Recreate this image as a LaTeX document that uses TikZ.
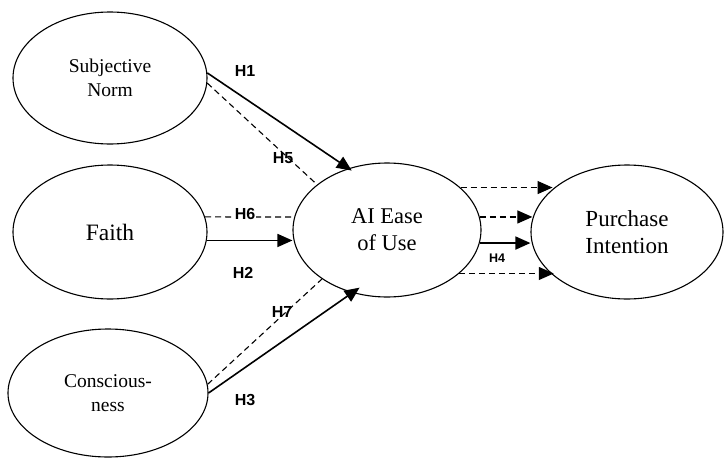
\documentclass[tikz,border=0pt]{standalone}
\usepackage{fontspec}
\setmainfont{Liberation Serif}
\newfontfamily\hfont{Liberation Sans}
\usetikzlibrary{arrows.meta,shapes.geometric}
\tikzset{
    construct/.style={draw,ellipse,line width=1.1pt,inner sep=0pt,align=center},
    solidarrow/.style={line width=1.6pt,-{Triangle[length=15pt,width=13pt]}},
    dasharrow/.style={line width=1.2pt,dash pattern=on 6pt off 4pt,-{Triangle[length=15pt,width=13pt]}},
    dashline/.style={line width=1.1pt,dash pattern=on 6pt off 4pt},
    hyp/.style={font=\hfont\bfseries\fontsize{16}{16}\selectfont,inner sep=1pt},
}
\begin{document}
\begin{tikzpicture}[x=1pt,y=-1pt]
        \useasboundingbox (0,0) rectangle (728,458);
        %% Constructs
        \node[construct,minimum width=194pt,minimum height=132pt,font=\fontsize{19.5}{24}\selectfont] (sn) at (110,78) {Subjective\\Norm};
        \node[construct,minimum width=194pt,minimum height=134pt,font=\fontsize{23.5}{27}\selectfont] (faith) at (110,232) {Faith};
        \node[construct,minimum width=200pt,minimum height=128pt,font=\fontsize{19.5}{24}\selectfont] (cons) at (108,393) {Conscious-\\ness};
        \node[construct,minimum width=188pt,minimum height=134pt,font=\fontsize{22.5}{27}\selectfont] (ai) at (387,230) {AI Ease\\of Use};
        \node[construct,minimum width=192pt,minimum height=134pt,font=\fontsize{23}{27}\selectfont] (pi) at (627,232) {Purchase\\Intention};
        %% Paths into AI Ease of Use
        \draw[solidarrow,shorten >=-4pt] (sn.3) -- (ai.122);
        \draw[dashline] (sn.-3) -- (ai.147);
        \draw[dashline] (faith.9) -- (ai.172);
        \draw[solidarrow] (faith.-5) -- (faith.-5 -| ai.west);
        \draw[dashline] (cons.5) -- (ai.217);
        \draw[solidarrow,shorten >=-9pt] (cons.east) -- (ai.241);
        %% Paths into Purchase Intention
        \draw[dasharrow] (ai.30) -- (ai.30 -| pi.150);
        \draw[dasharrow] (ai.8) -- (ai.8 -| pi.172);
        \draw[solidarrow] (ai.-8) -- (ai.-8 -| pi.west);
        \draw[dasharrow] (ai.-31) -- (ai.-31 -| pi.-149);
        %% Labels
        \node[hyp] (h1) at (245,71)  {H1};
        \node[hyp] (h5) at (283,158) {H5};
        \node[hyp,fill=white] (h6) at (245,214) {H6};
        \node[hyp] (h2) at (243,273) {H2};
        \node[hyp] (h7) at (282,312) {H7};
        \node[hyp] (h3) at (245,400) {H3};
        \node[hyp,font=\hfont\bfseries\fontsize{12.5}{12.5}\selectfont] (h4) at (497,258) {H4};
    \end{tikzpicture}
\end{document}
